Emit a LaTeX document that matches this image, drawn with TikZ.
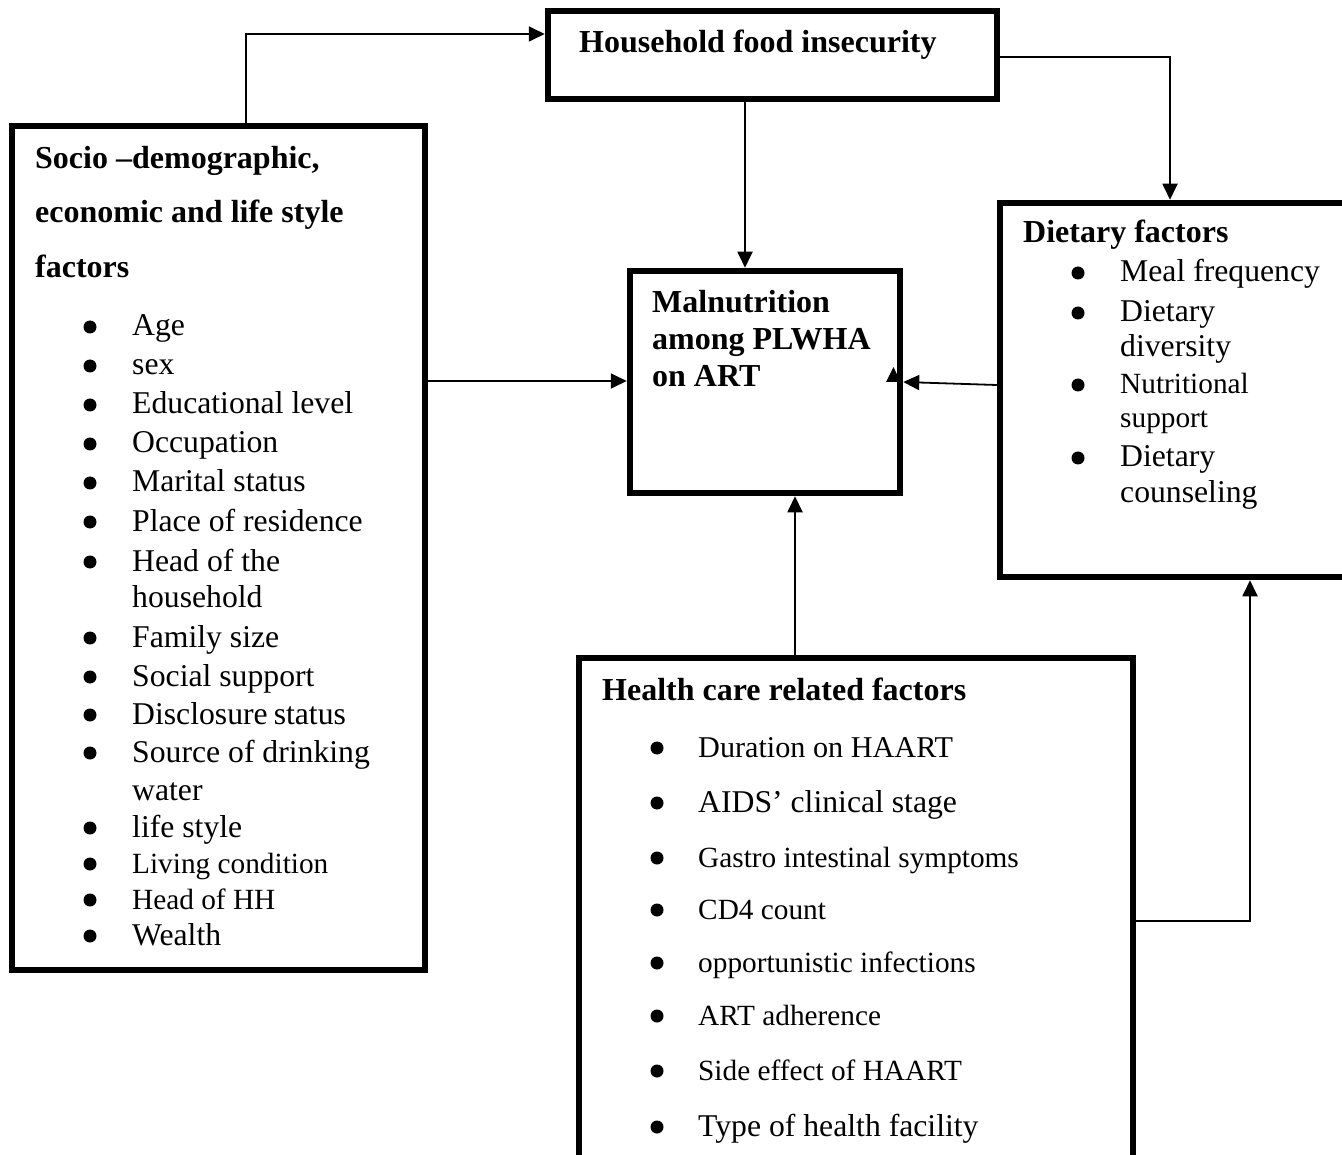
\documentclass[tikz,border=0pt]{standalone}
\usepackage{fontspec}
\setmainfont{Liberation Serif}
\usetikzlibrary{arrows.meta}
\begin{document}
\begin{tikzpicture}[x=1pt,y=-1pt,
  box/.style={draw, rectangle, line width=6.5pt, inner sep=0pt},
  arr/.style={line width=1.8pt, -{Triangle[length=16pt,width=15pt]}},
  txt/.style={anchor=base west, inner sep=0pt, font=\fontsize{31.7}{36}\selectfont},
  txs/.style={anchor=base west, inner sep=0pt, font=\fontsize{29.3}{34}\selectfont},
  hd/.style={anchor=base west, inner sep=0pt, font=\fontsize{32}{36}\selectfont\bfseries},
  bul/.style={circle, fill, inner sep=0pt, minimum size=13pt, yshift=9pt}]
\clip (0,0) rectangle (1342,1155);
\fill[white] (0,0) rectangle (1342,1155);

% boxes
\node[box, minimum width=449pt, minimum height=88pt] (hfi) at (772.5,55) {};
\node[box, minimum width=413pt, minimum height=844pt] (soc) at (218.5,548) {};
\node[box, minimum width=270pt, minimum height=222pt] (mal) at (765,382) {};
\node[box, minimum width=350pt, minimum height=374pt] (diet) at (1175,390) {};
\node[box, minimum width=554pt, minimum height=507pt] (hc) at (856,911.5) {};

% helper coordinates
\coordinate (k1) at (246,34);
\coordinate (k2) at (1170,57);
\coordinate (k3) at (745,0);
\coordinate (k4) at (0,381);
\coordinate (k5a) at (0,385);
\coordinate (k5b) at (0,382);
\coordinate (k6) at (795,0);
\coordinate (k7) at (1250,921);

% connectors
\draw[arr] (soc.north -| k1) |- (hfi.west |- k1);
\draw[arr] (hfi.east |- k2) -| (diet.north -| k2);
\draw[arr] (hfi.south -| k3) -- (mal.north -| k3);
\draw[arr] (soc.east |- k4) -- (mal.west |- k4);
\draw[arr] (diet.west |- k5a) -- (mal.east |- k5b);
\draw[arr] (hc.north -| k6) -- (mal.south -| k6);
\draw[arr] (hc.east |- k7) -| (diet.south -| k7);
\fill (886,382) -- (900.5,382) -- (893.5,367) -- cycle;

% household
\node[hd] (thfi) at (579,53) {Household food insecurity};

% malnutrition
\node[hd] (tm1) at (652,313) {Malnutrition};
\node[hd] (tm2) at (652,350) {among PLWHA};
\node[hd] (tm3) at (652,387) {on ART};

% socio
\node[hd] (ts1) at (35,169) {Socio –demographic,};
\node[hd] (ts2) at (35,223) {economic and life style};
\node[hd] (ts3) at (35,278) {factors};
\node[bul] (sb1) at (90,336) {};  \node[txt] (s1) at (132,336) {Age};
\node[bul] (sb2) at (90,375) {};  \node[txt] (s2) at (132,375) {sex};
\node[bul] (sb3) at (90,414) {};  \node[txt] (s3) at (132,414) {Educational level};
\node[bul] (sb4) at (90,453) {};  \node[txt] (s4) at (132,453) {Occupation};
\node[bul] (sb5) at (90,492) {};  \node[txt] (s5) at (132,492) {Marital status};
\node[bul] (sb6) at (90,531) {};  \node[txt] (s6) at (132,531) {Place of residence};
\node[bul] (sb7) at (90,571) {};  \node[txt] (s7) at (132,571) {Head of the};
\node[txt] (s7b) at (132,607) {household};
\node[bul] (sb8) at (90,647) {};  \node[txt] (s8) at (132,647) {Family size};
\node[bul] (sb9) at (90,686) {};  \node[txt] (s9) at (132,686) {Social support};
\node[bul] (sb10) at (90,724) {}; \node[txt] (s10) at (132,724) {Disclosure\hspace{6pt}status};
\node[bul] (sb11) at (90,762) {}; \node[txt] (s11) at (132,762) {Source of drinking};
\node[txt] (s11b) at (132,800) {water};
\node[bul] (sb12) at (90,837) {}; \node[txt] (s12) at (132,837) {life style};
\node[bul] (sb13) at (90,873) {}; \node[txs] (s13) at (132,873) {Living condition};
\node[bul] (sb14) at (90,909) {}; \node[txs] (s14) at (132,909) {Head of HH};
\node[bul] (sb15) at (90,945) {}; \node[txt] (s15) at (132,945) {Wealth};

% dietary
\node[hd] (td) at (1023,243) {Dietary factors};
\node[bul] (db1) at (1078,282) {}; \node[txt] (d1) at (1120,282) {Meal frequency};
\node[bul] (db2) at (1078,322) {}; \node[txt] (d2) at (1120,322) {Dietary};
\node[txt] (d2b) at (1120,357) {diversity};
\node[bul] (db3) at (1078,394) {}; \node[txs] (d3) at (1120,394) {Nutritional};
\node[txs] (d3b) at (1120,428) {support};
\node[bul] (db4) at (1078,467) {}; \node[txt] (d4) at (1120,467) {Dietary};
\node[txt] (d4b) at (1120,502) {counseling};

% health care
\node[hd] (th) at (602,700) {Health care related factors};
\node[bul] (hb1) at (657,757) {};  \node[txt, font=\fontsize{30.2}{34}\selectfont] (h1) at (698,757) {Duration on HAART};
\node[bul] (hb2) at (657,812) {};  \node[txt] (h2) at (698,812) {AIDS’ clinical stage};
\node[bul] (hb3) at (657,867) {};  \node[txs] (h3) at (698,867) {Gastro intestinal symptoms};
\node[bul] (hb4) at (657,919) {};  \node[txs] (h4) at (698,919) {CD4 count};
\node[bul] (hb5) at (657,972) {};  \node[txs] (h5) at (698,972) {opportunistic infections};
\node[bul] (hb6) at (657,1025) {}; \node[txs] (h6) at (698,1025) {ART adherence};
\node[bul] (hb7) at (657,1080) {}; \node[txs] (h7) at (698,1080) {Side effect of HAART};
\node[bul] (hb8) at (657,1136) {}; \node[txt] (h8) at (698,1136) {Type of health facility};
\end{tikzpicture}
\end{document}
